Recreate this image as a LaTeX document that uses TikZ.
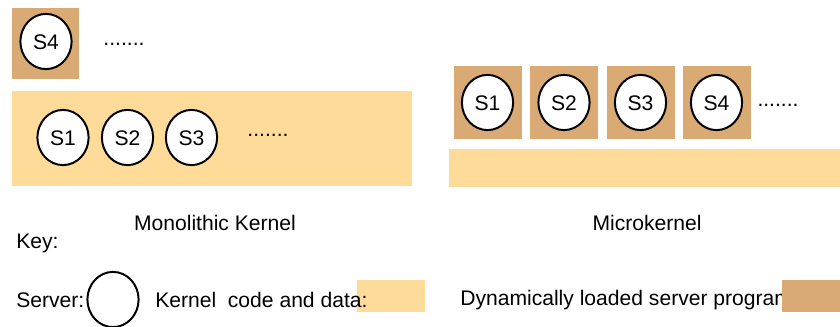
\documentclass[tikz,border=0pt]{standalone}
\usepackage{fontspec}
\setmainfont{Liberation Sans}
\usetikzlibrary{shapes.geometric}
\definecolor{kerncol}{RGB}{254,219,153}
\definecolor{progcol}{RGB}{217,170,115}
\tikzset{
  % fill styles for the boxes
  % gebruik: \fill[kernel] (x1,y1) rectangle (x2,y2);
  kernel/.style={fill=kerncol},
  prog/.style={fill=progcol},
  % node styles (servers, dots, captions)
  server/.style={ellipse,draw,line width=1.4pt,fill=white,inner sep=0pt,minimum width=1.28cm,minimum height=1.38cm,text height=1.1em,text depth=0pt,font=\fontsize{15}{18}\selectfont},
  more/.style={inner sep=0pt,font=\fontsize{15}{18}\selectfont},
  caption/.style={inner sep=0pt,font=\fontsize{15}{18}\selectfont},
}

\begin{document}
\begin{tikzpicture}[x=0.025cm,y=-0.025cm]
  \useasboundingbox (0,0) rectangle (840,327);
  % monolithic kernel
  \fill[prog] (12,8) rectangle (79,79);
  \node[server] (m4) at (46,41.5) {S4};
  \node[more] (mdots1) at (124,44) {.......};
  \fill[kernel] (12,91) rectangle (412,186);
  \node[server] (m1) at (63,137.5) {S1};
  \node[server] (m2) at (127.5,137.5) {S2};
  \node[server] (m3) at (191.5,137.5) {S3};
  \node[more] (mdots2) at (268,135) {.......};
  \node[caption] (mono) at (215,223) {Monolithic Kernel};
  % microkernel
  \foreach \x/\n in {454/1,530/2,607/3,683/4}
    \fill[prog] (\x,66) rectangle ++(67.5,73);
  \node[server] (u1) at (487.5,102.5) {S1};
  \node[server] (u2) at (564,102.5) {S2};
  \node[server] (u3) at (640.5,102.5) {S3};
  \node[server] (u4) at (716.5,102.5) {S4};
  \node[more] (udots) at (778,105) {.......};
  \fill[kernel] (449,149) rectangle (840,187);
  \node[caption] (micro) at (647,223) {Microkernel};
  % key
  \node[caption,anchor=west] (key) at (16,243) {Key:};
  \node[caption,anchor=west] (srvtxt) at (16,300) {Server:};
  \node[server] (keysrv) at (113,299.5) {};
  \fill[kernel] (357,280) rectangle (425,312);
  \node[caption,anchor=west] (kerntxt) at (155,300) {Kernel\ \ code and data:};
  \node[caption,anchor=west] (progtxt) at (460,300) {Dynamically loaded server program};
  \fill[prog] (782,280) rectangle (840,312);
\end{tikzpicture}
\end{document}
